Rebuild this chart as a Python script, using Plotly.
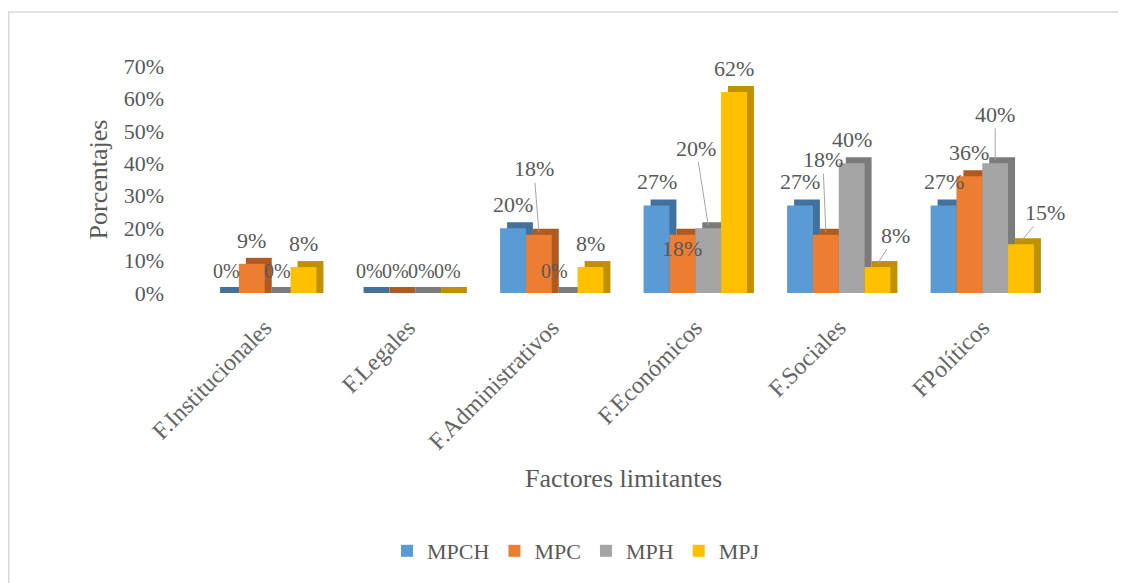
import plotly.graph_objects as go

# ---------------- data ----------------
categories = ["F.Institucionales", "F.Legales", "F.Administrativos",
              "F.Económicos", "F.Sociales", "FPolíticos"]
series_names = ["MPCH", "MPC", "MPH", "MPJ"]
mpch = [0, 0, 20, 27, 27, 27]
mpc = [9, 0, 18, 18, 18, 36]
mph = [0, 0, 0, 20, 40, 40]
mpj = [8, 0, 8, 62, 8, 15]
y_tick_values = [0, 10, 20, 30, 40, 50, 60, 70]

# ---------------- style ----------------
front_colors = ["#5B9BD5", "#ED7D31", "#A5A5A5", "#FFC000"]
side_colors = ["#41719C", "#AE5A21", "#7B7B7B", "#BF9000"]
text_color = "#595959"
font_family = "Liberation Serif"

PAGE_OFF = 8                      # browser body margin
W, H = 1126 - PAGE_OFF, 583 - PAGE_OFF
ml, mt = 193 - PAGE_OFF, 66 - PAGE_OFF
mr, mb = 72, 290
plot_w = W - ml - mr
plot_h = H - mt - mb
y_max = 0.70
bar_gap = 0.28
bw = (1 - bar_gap) / 4           # bar width in category units
depth_x = 7 / plot_w * 6         # 7px depth in category units
depth_y = 6 / plot_h * y_max     # 6px depth in value units

# label placement tweaks (series index, category index) -> style
label_style = {
    (1, 2): dict(arrow=True, ax=-5, ay=-63),
    (2, 2): dict(xshift=-10),
    (1, 3): dict(inside=True, yshift=-14),
    (2, 3): dict(arrow=True, ax=-12, ay=-77),
    (1, 4): dict(arrow=True, ax=-3, ay=-72),
    (3, 4): dict(arrow=True, ax=18, ay=-29),
    (2, 5): dict(arrow=True, ax=0, ay=-46),
    (3, 5): dict(arrow=True, ax=24, ay=-29),
}

all_series = [mpch, mpc, mph, mpj]
fig = go.Figure()

# depth (side/top) faces first
for i, vals in enumerate(all_series):
    fig.add_trace(go.Bar(
        x=categories, y=[v / 100 + depth_y for v in vals], base=0,
        width=bw, offset=-2 * bw + i * bw + depth_x,
        marker=dict(color=side_colors[i], line=dict(width=0)),
        showlegend=False, hoverinfo="skip",
    ))
# front faces
for i, vals in enumerate(all_series):
    fig.add_trace(go.Bar(
        x=categories, y=[v / 100 for v in vals], name=series_names[i],
        width=bw, offset=-2 * bw + i * bw,
        marker=dict(color=front_colors[i], line=dict(width=0)),
    ))

annotations = []
for i, vals in enumerate(all_series):
    for j, v in enumerate(vals):
        xpos = j + (-1.5 + i) * bw
        st = label_style.get((i, j), {})
        size = 20 if v == 0 else 22
        base = dict(x=xpos, y=v / 100, xref="x", yref="y", text=f"{v}%",
                    font=dict(family=font_family, size=size, color=text_color))
        if st.get("arrow"):
            base.update(showarrow=True, ax=st["ax"], ay=st["ay"], arrowhead=0,
                        arrowwidth=1, arrowcolor="#A6A6A6", standoff=0,
                        y=v / 100 + depth_y / 2)
        elif st.get("inside"):
            base.update(showarrow=False, yanchor="middle", yshift=st["yshift"])
        else:
            base.update(showarrow=False, yanchor="bottom", yshift=9,
                        xshift=st.get("xshift", 0))
        annotations.append(base)

fig.update_layout(
    width=W, height=H,
    margin=dict(l=ml, r=mr, t=mt, b=mb, autoexpand=False),
    barmode="overlay",
    plot_bgcolor="white", paper_bgcolor="white",
    font=dict(family=font_family, color=text_color, size=22),
    annotations=annotations,
    legend=dict(orientation="h", xref="container", yref="container",
                x=(576 - PAGE_OFF) / W, xanchor="center",
                y=1 - (551 - PAGE_OFF) / H, yanchor="middle",
                itemwidth=30, tracegroupgap=0,
                font=dict(size=22, color=text_color, family=font_family),
                traceorder="normal"),
    shapes=[dict(type="rect", xref="paper", yref="paper",
                 x0=(0.75 - ml) / plot_w, x1=(W + 20 - ml) / plot_w,
                 y0=(H - mb - (H + 20)) / plot_h,
                 y1=(H - mb - (12 - PAGE_OFF)) / plot_h,
                 line=dict(color="#D9D9D9", width=1.5), fillcolor="rgba(0,0,0,0)",
                 layer="below")],
)
fig.update_xaxes(
    type="category", range=[-0.5, 5.5], tickangle=-45,
    showgrid=False, showline=False, zeroline=False, ticks="",
    ticklabelstandoff=15,
    tickfont=dict(size=24, color="#666666", family=font_family),
    title=dict(text="Factores limitantes", standoff=15,
               font=dict(size=26, color=text_color, family=font_family)),
)
fig.update_yaxes(
    range=[0, y_max], tickvals=[t / 100 for t in y_tick_values],
    ticktext=[f"{t}%" for t in y_tick_values],
    showgrid=False, showline=False, zeroline=False, ticks="",
    ticklabelstandoff=28,
    tickfont=dict(size=22, color=text_color, family=font_family),
    title=dict(text="Porcentajes", standoff=8,
               font=dict(size=26, color=text_color, family=font_family)),
)

fig.write_html("out.html")
